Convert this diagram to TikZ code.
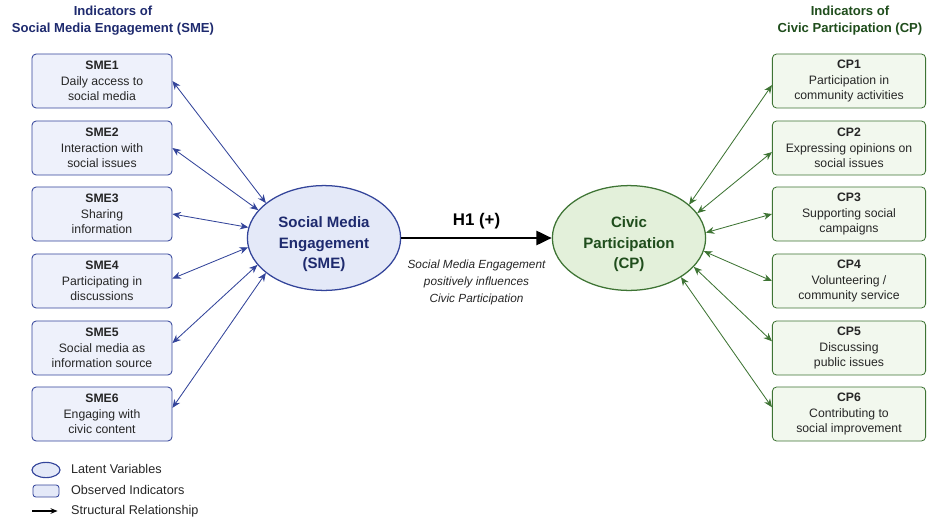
\documentclass[tikz,border=0pt]{standalone}
\usepackage{fontspec}
\setmainfont{Liberation Sans}
\usetikzlibrary{arrows.meta,shapes.geometric}
\definecolor{smeline}{HTML}{33449A}
\definecolor{smefill}{HTML}{EEF1FB}
\definecolor{smeell}{HTML}{E4E9F8}
\definecolor{smetext}{HTML}{1E2A6E}
\definecolor{cpline}{HTML}{3E7434}
\definecolor{cpfill}{HTML}{F2F8EE}
\definecolor{cpell}{HTML}{E3F0DA}
\definecolor{cptext}{HTML}{1F4D1C}
\newcommand{\lattext}[1]{\raisebox{-7pt}[0pt][0pt]{\begin{tabular}{@{}c@{}}#1\end{tabular}}}

\begin{document}
\begin{tikzpicture}[x=0.025cm, y=-0.025cm, >={Stealth[length=6pt,width=5pt]}, semithick]
 % Define block styles
	\tikzstyle{smebox} = [rectangle, draw=smeline, fill=smefill, rounded corners=3pt, minimum width=3.5cm, minimum height=1.35cm, inner sep=1pt, align=center, text=black!85, font=\fontsize{8.7}{11.2}\selectfont]
	\tikzstyle{cpbox} = [rectangle, draw=cpline, fill=cpfill, rounded corners=3pt, minimum width=3.83cm, minimum height=1.35cm, inner sep=1pt, align=center, text=black!85, font=\fontsize{8.7}{11.2}\selectfont]
	\tikzstyle{latent} = [ellipse, draw, line width=0.9pt, inner sep=0pt, minimum width=3.83cm, minimum height=2.62cm, font=\bfseries\fontsize{10.7}{14.4}\selectfont]
	\tikzstyle{title} = [align=center, font=\bfseries\fontsize{9.3}{12.2}\selectfont]
	\tikzstyle{legendtext} = [anchor=west, font=\fontsize{9}{10}\selectfont, text=black!85]
	\tikzstyle{smeline} = [<->, draw=smeline, line width=0.6pt]
	\tikzstyle{cpline} = [<->, draw=cpline, line width=0.6pt]
	\useasboundingbox (0,0) rectangle (928,520);
%%====Titles===============================================================
	\node	[title, text=smetext]	(smetitle)	at (113,21)	{Indicators of\\Social Media Engagement (SME)};
	\node	[title, text=cptext]	(cptitle)	at (850,21)	{Indicators of\\Civic Participation (CP)};
%%====Latent variables===============================================================
	\node	[latent, draw=smeline, fill=smeell, text=smetext]	(sme)	at (324,238)	{\lattext{Social Media\\Engagement\\(SME)}};
	\node	[latent, draw=cpline, fill=cpell, text=cptext]	(cp)	at (629,238)	{\lattext{Civic\\Participation\\(CP)}};
%%====Indicators SME===============================================================
	\node	[smebox]	(sme1)	at (102,81)	{\textbf{SME1}\\Daily access to\\social media};
	\node	[smebox]	(sme2)	at (102,148)	{\textbf{SME2}\\Interaction with\\social issues};
	\node	[smebox]	(sme3)	at (102,214)	{\textbf{SME3}\\Sharing\\information};
	\node	[smebox]	(sme4)	at (102,281)	{\textbf{SME4}\\Participating in\\discussions};
	\node	[smebox]	(sme5)	at (102,348)	{\textbf{SME5}\\Social media as\\information source};
	\node	[smebox]	(sme6)	at (102,414)	{\textbf{SME6}\\Engaging with\\civic content};
%%====Indicators CP===============================================================
	\node	[cpbox]	(cp1)	at (849,81)	{\textbf{CP1}\\Participation in\\community activities};
	\node	[cpbox]	(cp2)	at (849,148)	{\textbf{CP2}\\Expressing opinions on\\social issues};
	\node	[cpbox]	(cp3)	at (849,214)	{\textbf{CP3}\\Supporting social\\campaigns};
	\node	[cpbox]	(cp4)	at (849,281)	{\textbf{CP4}\\Volunteering /\\community service};
	\node	[cpbox]	(cp5)	at (849,348)	{\textbf{CP5}\\Discussing\\public issues};
	\node	[cpbox]	(cp6)	at (849,414)	{\textbf{CP6}\\Contributing to\\social improvement};
%%====Edges===============================================================
	\draw	[smeline]	(sme1.east)	-- (sme.149);
	\draw	[smeline]	(sme2.east)	-- (sme.157);
	\draw	[smeline]	(sme3.east)	-- (sme.172);
	\draw	[smeline]	(sme4.2.5)	-- (sme.187);
	\draw	[smeline]	(sme5.4)	-- (sme.202);
	\draw	[smeline]	(sme6.5)	-- (sme.211);
	\draw	[cpline]	(cp1.183)	-- (cp.29);
	\draw	[cpline]	(cp2.183)	-- (cp.20);
	\draw	[cpline]	(cp3.west)	-- (cp.4);
	\draw	[cpline]	(cp4.west)	-- (cp.-10);
	\draw	[cpline]	(cp5.175.5)	-- (cp.-24);
	\draw	[cpline]	(cp6.175.5)	-- (cp.-37);
	\draw	[-{Triangle[length=11pt,width=10pt]}, line width=2pt]	(sme.east) -- node [above=2pt, font=\bfseries\fontsize{12}{13}\selectfont] {H1 (+)} node [below=11pt, align=center, font=\itshape\fontsize{8.4}{12.2}\selectfont, text=black!85] {Social Media Engagement\\positively influences\\Civic Participation} (cp.west);
%%====Legend===============================================================
	\node	[ellipse, draw=smeline, fill=smeell, line width=0.8pt, minimum width=0.7cm, minimum height=0.38cm, inner sep=0pt]	(legell)	at (46,470)	{};
	\node	[legendtext]	(legelltext)	at (66,469)	{Latent Variables};
	\node	[rectangle, draw=smeline, fill=smeell, rounded corners=2pt, minimum width=0.65cm, minimum height=0.3cm, inner sep=0pt]	(legbox)	at (46,491)	{};
	\node	[legendtext]	(legboxtext)	at (66,490)	{Observed Indicators};
	\coordinate	(legstart)	at (32,511);
	\node	[legendtext]	(legarrtext)	at (66,511)	{Structural Relationship};
	\draw	[-{Stealth[length=5pt,width=4pt]}, line width=0.8pt]	(legstart) -- ([xshift=-6pt]legarrtext.west);
\end{tikzpicture}
\end{document}
